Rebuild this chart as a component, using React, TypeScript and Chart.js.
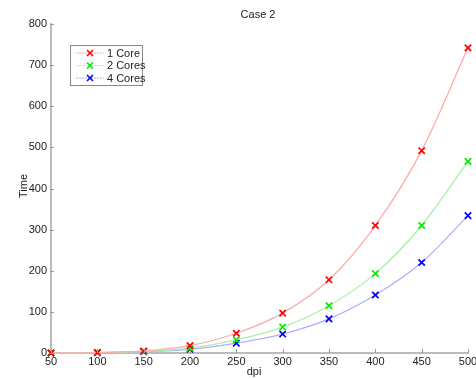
import React, { useEffect, useRef } from "react";
import { Chart, registerables } from "chart.js";

Chart.register(...registerables);

const dpi = [50, 100, 150, 200, 250, 300, 350, 400, 450, 500];
const oneCore = [0, 1, 5, 18, 48, 97, 178, 310, 492, 742];
const twoCores = [0, 1, 4, 12, 32, 63, 115, 193, 310, 466];
const fourCores = [0, 0.5, 3, 9, 24, 46, 83, 141, 220, 334];
const seriesNames = ["1 Core", "2 Cores", "4 Cores"];
const titleText = "Case 2";
const xTitle = "dpi";
const yTitle = "Time";

const FAMILY = "'Liberation Sans', Arial, sans-serif";
const FONT = "11px " + FAMILY;

const markerColors = ["#ff0000", "#00ee00", "#0000ff"];
const lineColors = ["rgba(255,170,170,1)", "rgba(170,240,170,1)", "rgba(175,175,255,1)"];

function drawCross(ctx: CanvasRenderingContext2D, x: number, y: number, r: number, color: string) {
  ctx.save();
  ctx.strokeStyle = color;
  ctx.lineWidth = 1.6;
  ctx.beginPath();
  ctx.moveTo(x - r, y - r);
  ctx.lineTo(x + r, y + r);
  ctx.moveTo(x + r, y - r);
  ctx.lineTo(x - r, y + r);
  ctx.stroke();
  ctx.restore();
}

const decorPlugin = {
  id: "decor",
  afterDraw(chart: any) {
    const ctx: CanvasRenderingContext2D = chart.ctx;
    const xs = chart.scales.x;
    const ys = chart.scales.y;
    const area = chart.chartArea;
    ctx.save();
    ctx.strokeStyle = "#999";
    ctx.lineWidth = 1;
    for (const v of dpi) {
      const px = Math.round(xs.getPixelForValue(v)) + 0.5;
      ctx.beginPath();
      ctx.moveTo(px, area.bottom);
      ctx.lineTo(px, area.bottom - 4);
      ctx.stroke();
    }
    for (let v = 0; v <= 800; v += 100) {
      const py = Math.round(ys.getPixelForValue(v)) + 0.5;
      ctx.beginPath();
      ctx.moveTo(area.left - 1, py);
      ctx.lineTo(area.left + 3, py);
      ctx.stroke();
    }
    ctx.fillStyle = "#222";
    ctx.font = FONT;
    ctx.textAlign = "center";
    ctx.textBaseline = "middle";
    ctx.fillText(titleText, 258, 15);
    ctx.fillText(xTitle, 254, 372);
    ctx.save();
    ctx.translate(24, 186);
    ctx.rotate(-Math.PI / 2);
    ctx.fillText(yTitle, 0, 0);
    ctx.restore();
    const bx = 70.5, by = 45.5, bw = 72, bh = 40;
    ctx.fillStyle = "#fff";
    ctx.fillRect(bx, by, bw, bh);
    ctx.strokeStyle = "#888";
    ctx.lineWidth = 1;
    ctx.strokeRect(bx, by, bw, bh);
    const rows = [53, 65.5, 78];
    for (let i = 0; i < 3; i++) {
      const y = rows[i];
      ctx.strokeStyle = lineColors[i];
      ctx.lineWidth = 1;
      ctx.setLineDash([2, 1]);
      ctx.beginPath();
      ctx.moveTo(76, y);
      ctx.lineTo(104, y);
      ctx.stroke();
      ctx.setLineDash([]);
      drawCross(ctx, 90, y, 3, markerColors[i]);
      ctx.fillStyle = "#222";
      ctx.textAlign = "left";
      ctx.fillText(seriesNames[i], 107, y + 0.5);
    }
    ctx.restore();
  },
};

export default function App() {
  const ref = useRef<HTMLCanvasElement | null>(null);
  useEffect(() => {
    if (!ref.current) return;
    const values = [oneCore, twoCores, fourCores];
    const chart = new Chart(ref.current, {
      type: "line",
      data: {
        datasets: values.map((vals, i) => ({
          label: seriesNames[i],
          data: dpi.map((d, j) => ({ x: d, y: vals[j] })),
          borderColor: lineColors[i],
          borderWidth: 1.3,
          tension: 0.3,
          pointStyle: "crossRot",
          pointRadius: 4.5,
          pointBorderWidth: 1.7,
          pointBorderColor: markerColors[i],
          pointBackgroundColor: markerColors[i],
          fill: false,
          clip: false,
        })),
      },
      options: {
        animation: false,
        responsive: false,
        maintainAspectRatio: false,
        layout: { padding: { left: 0, top: 24, right: 8, bottom: 0 } },
        plugins: {
          legend: { display: false },
          title: { display: false },
          tooltip: { enabled: false },
        },
        scales: {
          x: {
            type: "linear",
            min: 50,
            max: 500,
            grid: { display: false, drawTicks: false, tickLength: 0 },
            border: { display: true, color: "#bbb", width: 2 },
            ticks: {
              stepSize: 50,
              color: "#222",
              font: { family: FAMILY, size: 11 },
              padding: 2,
              maxRotation: 0,
            },
            afterFit: (s: any) => {
              s.height = 26;
              s.paddingLeft = 0;
              s.paddingRight = 0;
            },
          },
          y: {
            type: "linear",
            min: 0,
            max: 800,
            grid: { display: false, drawTicks: false, tickLength: 0 },
            border: { display: true, color: "#bbb", width: 2 },
            ticks: {
              stepSize: 100,
              color: "#222",
              font: { family: FAMILY, size: 11 },
              padding: 4,
            },
            afterFit: (s: any) => {
              s.width = 51;
              s.paddingTop = 0;
              s.paddingBottom = 0;
            },
          },
        },
      },
      plugins: [decorPlugin],
    });
    return () => chart.destroy();
  }, []);
  return (
    <div style={{ position: "fixed", left: 0, top: 0, width: 476, height: 379, background: "#fff" }}>
      <canvas ref={ref} width={476} height={379} style={{ width: 476, height: 379 }} />
    </div>
  );
}
